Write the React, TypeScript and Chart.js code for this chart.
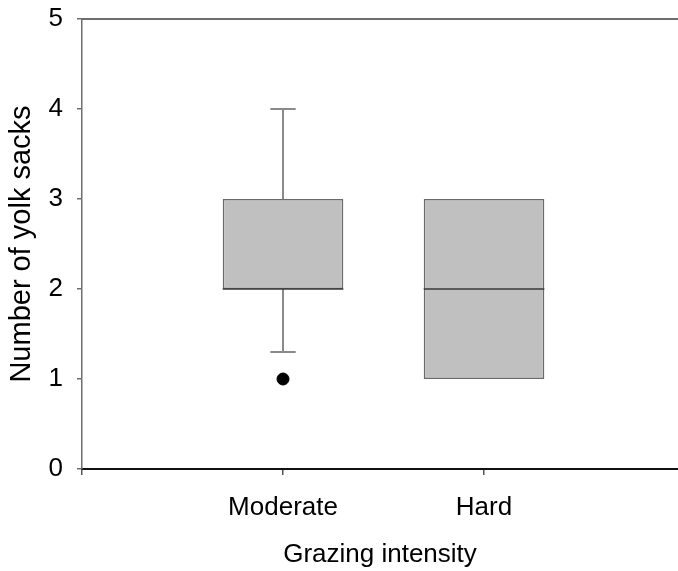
import React, { useEffect, useRef } from "react";
import { Chart, registerables } from "chart.js";

Chart.register(...registerables);

// Grazing intensity groups and their box-plot summaries
const categories = ["Moderate", "Hard"];
const categoryPositions = [1, 2];
const lowerQuartile = [2, 1];
const medianValue = [2, 2];
const upperQuartile = [3, 3];
const whiskerLow = [1.3, 1];
const whiskerHigh = [4, 3];
const outlierValues = [[1], []];

const yTicks = [0, 1, 2, 3, 4, 5];

const FONT = "'Liberation Sans', Arial, Helvetica, sans-serif";

// Draws whiskers, medians and the top frame line on top of the boxes
const boxPlotExtras = {
  id: "boxPlotExtras",
  afterDatasetsDraw(chart: any) {
    const { ctx, chartArea, scales } = chart;
    const x = scales.x;
    const y = scales.y;
    const boxMeta = chart.getDatasetMeta(0);
    ctx.save();

    categoryPositions.forEach((pos, i) => {
      const cx = x.getPixelForValue(pos);
      const bar = boxMeta.data[i];
      const half = bar ? bar.width / 2 : 60;
      const capHalf = half * 0.21;

      ctx.strokeStyle = "#8a8a8a";
      ctx.lineWidth = 2;
      const segs: [number, number][] = [
        [upperQuartile[i], whiskerHigh[i]],
        [lowerQuartile[i], whiskerLow[i]],
      ];
      segs.forEach(([from, to]) => {
        if (from === to) return;
        const y0 = y.getPixelForValue(from);
        const y1 = y.getPixelForValue(to);
        ctx.beginPath();
        ctx.moveTo(cx, y0);
        ctx.lineTo(cx, y1);
        ctx.moveTo(cx - capHalf, y1);
        ctx.lineTo(cx + capHalf, y1);
        ctx.stroke();
      });

      // median
      const my = y.getPixelForValue(medianValue[i]);
      ctx.strokeStyle = "#3a3a3a";
      ctx.lineWidth = 1.5;
      ctx.beginPath();
      ctx.moveTo(cx - half, my);
      ctx.lineTo(cx + half, my);
      ctx.stroke();
    });

    // top frame line
    ctx.strokeStyle = "#6e6e6e";
    ctx.lineWidth = 2;
    ctx.beginPath();
    ctx.moveTo(chartArea.left, chartArea.top);
    ctx.lineTo(chartArea.right, chartArea.top);
    ctx.stroke();

    ctx.restore();
  },
};

export default function App() {
  const canvasRef = useRef<HTMLCanvasElement | null>(null);

  useEffect(() => {
    if (!canvasRef.current) return;

    const boxData = categoryPositions.map((pos, i) => ({
      x: pos,
      y: [lowerQuartile[i], upperQuartile[i]],
    }));
    const outlierData: { x: number; y: number }[] = [];
    categoryPositions.forEach((pos, i) =>
      outlierValues[i].forEach((v) => outlierData.push({ x: pos, y: v }))
    );

    const chart = new Chart(canvasRef.current, {
      type: "bar",
      data: {
        datasets: [
          {
            type: "bar",
            data: boxData as any,
            backgroundColor: "#c0c0c0",
            borderColor: "#6a6a6a",
            borderWidth: 1.5,
            borderSkipped: false,
            categoryPercentage: 1,
            barPercentage: 0.6,
          },
          {
            type: "scatter",
            data: outlierData as any,
            backgroundColor: "#000000",
            borderColor: "#000000",
            pointRadius: 6,
            pointHoverRadius: 6,
          },
        ],
      },
      options: {
        animation: false,
        responsive: true,
        maintainAspectRatio: false,
        layout: {
          autoPadding: false,
          padding: { top: 19, right: 0, left: 0, bottom: 0 },
        },
        plugins: {
          legend: { display: false },
          tooltip: { enabled: false },
        },
        scales: {
          x: {
            type: "linear",
            offset: false,
            min: 0,
            max: 2.965,
            afterBuildTicks: (scale: any) => {
              scale.ticks = [0, ...categoryPositions].map((v) => ({ value: v }));
            },
            afterFit: (scale: any) => {
              scale.height = 102;
              scale.paddingLeft = 0;
              scale.paddingRight = 0;
            },
            ticks: {
              callback: (v: any) => {
                const idx = categoryPositions.indexOf(Number(v));
                return idx >= 0 ? categories[idx] : "";
              },
              color: "#000000",
              font: { family: FONT, size: 26 },
              padding: 17,
              maxRotation: 0,
              autoSkip: false,
            },
            grid: {
              offset: false,
              drawOnChartArea: false,
              drawTicks: true,
              tickLength: 6,
              color: "#555555",
              lineWidth: 1.5,
            },
            border: { color: "#111111", width: 2 },
            title: {
              display: true,
              text: "Grazing intensity",
              color: "#000000",
              font: { family: FONT, size: 26 },
              padding: { top: 0, bottom: 1 },
            },
          },
          y: {
            type: "linear",
            min: 0,
            max: 5,
            afterBuildTicks: (scale: any) => {
              scale.ticks = yTicks.map((v) => ({ value: v }));
            },
            afterFit: (scale: any) => {
              scale.width = 82;
              scale.paddingTop = 0;
              scale.paddingBottom = 0;
            },
            ticks: {
              color: "#000000",
              font: { family: FONT, size: 26 },
              padding: 14,
            },
            grid: {
              drawOnChartArea: false,
              drawTicks: true,
              tickLength: 5,
              color: "#6e6e6e",
              lineWidth: 1.5,
            },
            border: { color: "#6e6e6e", width: 1.5 },
            title: {
              display: true,
              text: "Number of yolk sacks",
              color: "#000000",
              font: { family: FONT, size: 29 },
              padding: { top: 5, bottom: 0 },
            },
          },
        },
      },
      plugins: [boxPlotExtras],
    });

    return () => chart.destroy();
  }, []);

  return (
    <div
      style={{
        position: "absolute",
        left: 0,
        top: 0,
        width: 678,
        height: 571,
        background: "#ffffff",
      }}
    >
      <canvas ref={canvasRef} />
    </div>
  );
}
